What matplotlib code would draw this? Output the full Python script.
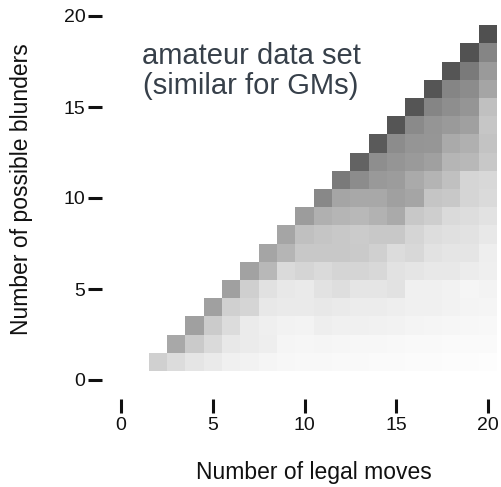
import numpy as np
import matplotlib
matplotlib.use("Agg")
import matplotlib.pyplot as plt
from matplotlib.colors import LinearSegmentedColormap

# Number of legal moves (columns) and number of possible blunders (rows)
legal_moves = list(range(2, 21))
blunder_counts = list(range(1, 20))

# Gray level (0 = black, 255 = white) of each cell, one list per row of blunders,
# running over legal moves from (blunders + 1) up to 20
gray_b1 = [208, 220, 229, 234, 240, 242, 245, 247, 248, 248, 249, 249, 250, 250, 251, 251, 252, 252, 253]
gray_b2 = [168, 202, 218, 232, 235, 238, 245, 246, 245, 246, 247, 247, 248, 249, 249, 250, 250, 250]
gray_b3 = [160, 203, 220, 235, 239, 242, 243, 238, 240, 240, 241, 242, 244, 245, 246, 247, 248]
gray_b4 = [160, 208, 213, 232, 234, 234, 232, 234, 236, 236, 238, 240, 240, 242, 244, 245]
gray_b5 = [160, 207, 225, 232, 234, 226, 222, 229, 229, 226, 240, 240, 242, 245, 243]
gray_b6 = [162, 184, 218, 213, 218, 213, 213, 216, 226, 229, 232, 232, 236, 239]
gray_b7 = [165, 181, 200, 200, 200, 202, 208, 220, 216, 226, 229, 229, 238]
gray_b8 = [165, 192, 197, 200, 203, 200, 200, 213, 221, 224, 226, 232]
gray_b9 = [156, 176, 181, 184, 178, 170, 200, 206, 218, 221, 226]
gray_b10 = [136, 165, 168, 168, 160, 165, 197, 200, 213, 218]
gray_b11 = [122, 140, 153, 156, 170, 180, 192, 213, 216]
gray_b12 = [99, 142, 149, 154, 160, 181, 184, 200]
gray_b13 = [90, 140, 149, 150, 170, 176, 195]
gray_b14 = [85, 138, 149, 154, 160, 198]
gray_b15 = [85, 133, 142, 149, 192]
gray_b16 = [85, 133, 140, 165]
gray_b17 = [85, 122, 154]
gray_b18 = [82, 133]
gray_b19 = [80]

gray_rows = [gray_b1, gray_b2, gray_b3, gray_b4, gray_b5, gray_b6, gray_b7,
             gray_b8, gray_b9, gray_b10, gray_b11, gray_b12, gray_b13,
             gray_b14, gray_b15, gray_b16, gray_b17, gray_b18, gray_b19]

tick_values = [0, 5, 10, 15, 20]

# Build masked matrix: rows = blunders, cols = legal moves
nrows, ncols = len(blunder_counts), len(legal_moves)
mat = np.full((nrows, ncols), np.nan)
for i, b in enumerate(blunder_counts):
    vals = gray_rows[i]
    for k, v in enumerate(vals):
        m = b + 1 + k
        j = legal_moves.index(m)
        mat[i, j] = 1.0 - v / 255.0
mat = np.ma.masked_invalid(mat)

W, H, DPI = 501, 487, 100
fig = plt.figure(figsize=(W / DPI, H / DPI), dpi=DPI)
plt.rcParams['font.family'] = ['Liberation Sans', 'DejaVu Sans']

# axes placement in pixels
px_per_x = 18.35
px_per_y = 18.2
x0_px, y0_px = 121, 380
xmax, ymax = 20.7, 20.5
ax = fig.add_axes([x0_px / W, 1 - y0_px / H, xmax * px_per_x / W, ymax * px_per_y / H])

cmap = LinearSegmentedColormap.from_list("gr", ["#ffffff", "#000000"])
xe = np.arange(legal_moves[0] - 0.5, legal_moves[-1] + 1.0, 1.0)
ye = np.arange(blunder_counts[0] - 0.5, blunder_counts[-1] + 1.0, 1.0)
ax.pcolormesh(xe, ye, mat, cmap=cmap, vmin=0, vmax=1, shading='flat', antialiased=False)

ax.set_xlim(0, xmax)
ax.set_ylim(0, ymax)
for s in ax.spines.values():
    s.set_visible(False)
ax.spines['bottom'].set_position(('outward', 13.7))
ax.spines['left'].set_position(('outward', 13.7))
ax.set_xticks(tick_values)
ax.set_yticks(tick_values)
ax.tick_params(axis='both', direction='out', length=10, width=2.2, color='#111111',
               labelsize=14, labelcolor='#111111')
ax.tick_params(axis='x', pad=3)
ax.tick_params(axis='y', pad=2)
ax.set_facecolor('white')

fig.text(314 / W, 1 - 472 / H, "Number of legal moves", ha='center', va='center',
         fontsize=16.5, color='#111111')
fig.text(22 / W, 1 - 189 / H, "Number of possible blunders", ha='center', va='center',
         rotation=90, fontsize=16.5, color='#111111')

fig.text(251 / W, 1 - 71 / H, "amateur data set\n(similar for GMs)", ha='center', va='center',
         fontsize=21, color='#37404a', linespacing=1.05)

fig.savefig("out.png", dpi=DPI)
